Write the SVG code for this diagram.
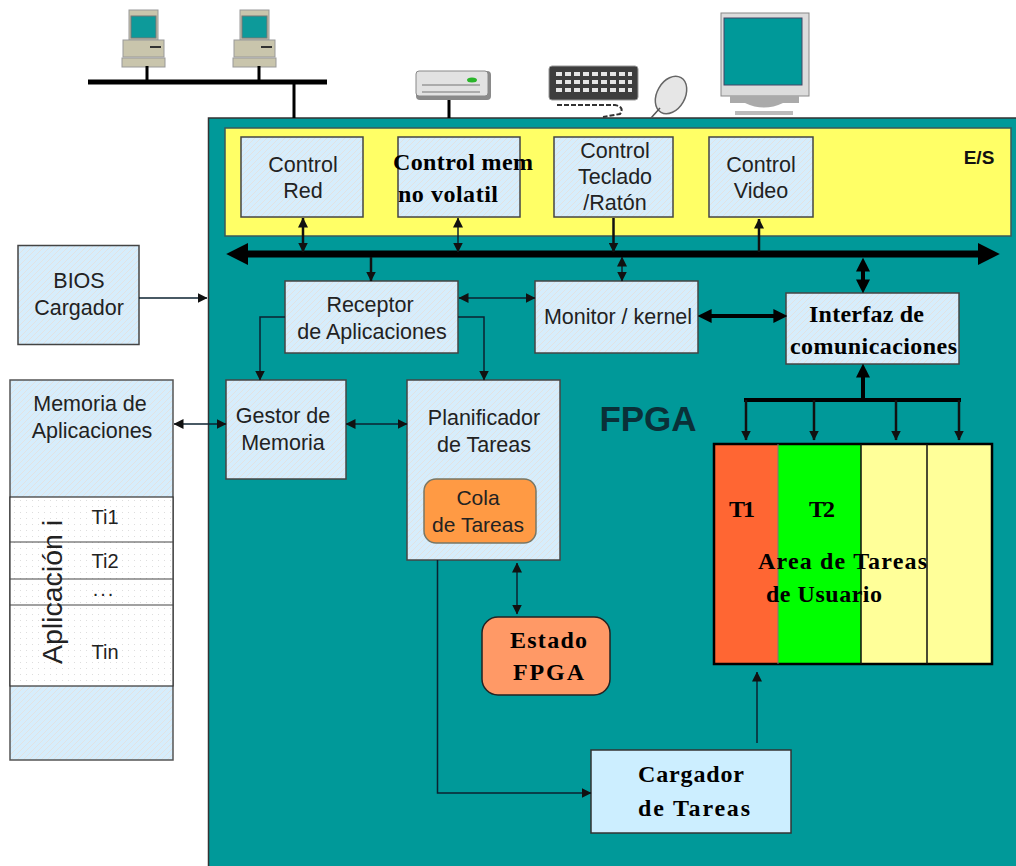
<svg xmlns="http://www.w3.org/2000/svg" width="1016" height="866" viewBox="0 0 1016 866">
<style>
.n{fill:url(#hatch);stroke:#444;stroke-width:1.500}
.t{font-family:"Liberation Sans",Arial,sans-serif;font-size:21.500px;fill:#222;text-anchor:middle}
.s{font-family:"Liberation Serif","Times New Roman",serif;font-size:24px;font-weight:bold;fill:#000}
.c{fill:none;stroke:#0b2230;stroke-width:1.500}
.m{fill:none;stroke:#111;stroke-width:2.500}
.h{fill:none;stroke:#000;stroke-width:4}
.gr{fill:#c9c5ac;stroke:#999;stroke-width:1}
.sc{fill:#0a9a9a;stroke:#777;stroke-width:1}
.ic{filter:url(#soft)}
</style>
<defs>
<filter id="soft" x="-10%" y="-10%" width="120%" height="120%"><feGaussianBlur stdDeviation="0.600"/></filter>
<pattern id="hatch" width="6" height="6" patternUnits="userSpaceOnUse"><rect width="6" height="6" fill="#d6edfc"/><path d="M0 3L3 0M3 6L6 3" stroke="#e2e2e2" stroke-width="1"/></pattern>
<pattern id="dots" width="6" height="6" patternUnits="userSpaceOnUse"><rect width="6" height="6" fill="#fff"/><rect x="2" y="2" width="1" height="1" fill="#ddd"/></pattern>
<marker id="a" viewBox="0 0 10 10" refX="9.500" refY="5" markerWidth="10" markerHeight="10" markerUnits="userSpaceOnUse" orient="auto-start-reverse"><path d="M0 0L10 5L0 10Z" fill="#111"/></marker>
<marker id="b" viewBox="0 0 10 10" refX="4" refY="5" markerWidth="14" markerHeight="14" markerUnits="userSpaceOnUse" orient="auto-start-reverse"><path d="M0 0L10 5L0 10Z" fill="#000"/></marker>
<marker id="d" viewBox="0 0 10 10" refX="1" refY="5" markerWidth="22" markerHeight="22" markerUnits="userSpaceOnUse" orient="auto-start-reverse"><path d="M0 0L10 5L0 10Z" fill="#000"/></marker>
<g id="pc"><rect x="129" y="10" width="29" height="30" class="gr"/><rect x="131" y="16" width="25" height="22" class="sc"/><rect x="123" y="40" width="41" height="17" class="gr"/><rect x="150" y="46" width="11" height="2" fill="#333"/><rect x="122" y="58" width="43" height="9" class="gr"/></g>
</defs>
<rect width="1016" height="866" fill="#fff"/>
<g id="fpga"><rect x="208.500" y="118" width="820" height="760" fill="#009999" stroke="#333" stroke-width="1.500"/></g>
<g id="es"><rect x="225" y="128" width="786" height="108" fill="#ffff66" stroke="#3a5a5a" stroke-width="1.500"/><text x="979" y="164" font-family="Liberation Sans,Arial,sans-serif" font-size="19" font-weight="bold" fill="#111" text-anchor="middle">E/S</text></g>
<g id="network">
<g class="ic"><use href="#pc"/><use href="#pc" x="111"/></g>
<path d="M88 82H327" stroke="#000" stroke-width="5" fill="none"/>
<path d="M147 66V82M259 66V82M294 82V118" stroke="#000" stroke-width="3" fill="none"/>
</g>
<g id="disk"><g class="ic"><rect x="416" y="71" width="75" height="29" rx="4" fill="#8a8a8a"/><rect x="416" y="71" width="72" height="25" rx="3" fill="#e2e2e2" stroke="#888"/><path d="M422 85H480M422 92H480" stroke="#999" stroke-width="1.500"/><ellipse cx="472" cy="80" rx="5" ry="2.500" fill="#2cb52c"/></g><path d="M449 100V118" stroke="#000" stroke-width="3"/></g>
<g id="keyboard" class="ic"><rect x="549" y="66" width="89" height="34" rx="3" fill="#3c3c3c" stroke="#999"/><path d="M556 74H632M556 82H632M556 90H632" stroke="#e5e5e5" stroke-width="4" stroke-dasharray="6 3"/><path d="M557 105H615Q625 107 620 114L603 117" fill="none" stroke="#333" stroke-width="2" stroke-dasharray="5 2"/></g>
<g id="mouse" class="ic"><ellipse cx="671" cy="95" rx="14" ry="20" transform="rotate(30 671 95)" fill="#e6e6e6" stroke="#666" stroke-width="1.500"/><path d="M660 108L651 118" stroke="#555" stroke-width="1.500"/></g>
<g id="monitor" class="ic"><rect x="721" y="13" width="88" height="83" fill="#dcdcdc" stroke="#888"/><rect x="724" y="18" width="78" height="67" fill="#009999" stroke="#446"/><rect x="730" y="96" width="69" height="7" fill="#aaa"/><path d="M745 103Q764 112 783 103Z" fill="#aaa"/><rect x="735" y="111" width="58" height="4" fill="#bbb"/></g>
<g id="bios"><rect x="18" y="245.500" width="121" height="99" class="n"/><text class="t" x="79" y="288">BIOS</text><text class="t" x="79" y="315">Cargador</text></g>
<g id="memoria">
<rect x="10" y="380" width="163" height="380" fill="url(#hatch)" stroke="#555" stroke-width="1.500"/>
<rect x="10" y="497" width="163" height="189" fill="url(#dots)" stroke="#333" stroke-width="1.200"/>
<path d="M10 542H173M10 579H173M10 605H173" stroke="#444" stroke-width="1.200"/>
<text class="t" x="90" y="411">Memoria de</text><text class="t" x="92" y="438">Aplicaciones</text>
<text class="t" style="font-size:20px" x="105" y="524">Ti1</text><text class="t" style="font-size:20px" x="105" y="568">Ti2</text><text class="t" style="font-size:20px;letter-spacing:2px" x="104" y="596">...</text><text class="t" style="font-size:20px" x="105" y="659">Tin</text>
<text class="t" style="font-size:28.500px" transform="translate(62 663) rotate(-90)" x="71" y="0">Aplicación i</text>
</g>
<g id="control-red"><rect x="241" y="137" width="122" height="80" class="n"/><text class="t" x="303" y="172">Control</text><text class="t" x="303" y="198">Red</text></g>
<g id="control-mem"><rect x="398" y="137" width="122" height="80" class="n"/><text class="s" x="393" y="170" textLength="140">Control mem</text><text class="s" x="398" y="202" textLength="100">no volatil</text></g>
<g id="control-teclado"><rect x="554" y="137" width="119" height="80" class="n"/><text class="t" x="615" y="158">Control</text><text class="t" x="615" y="184">Teclado</text><text class="t" x="615" y="210">/Ratón</text></g>
<g id="control-video"><rect x="709" y="137" width="104" height="80" class="n"/><text class="t" x="761" y="172">Control</text><text class="t" x="761" y="198">Video</text></g>
<g id="receptor"><rect x="285" y="281" width="173" height="72" class="n"/><text class="t" x="370" y="312">Receptor</text><text class="t" x="372" y="339">de Aplicaciones</text></g>
<g id="monitor-kernel"><rect x="535" y="281" width="163" height="72" class="n"/><text class="t" x="618" y="324">Monitor / kernel</text></g>
<g id="interfaz"><rect x="786" y="293" width="173" height="71" class="n"/><text class="s" x="809" y="322" textLength="115">Interfaz de</text><text class="s" x="790" y="354" textLength="167">comunicaciones</text></g>
<g id="gestor"><rect x="226" y="380" width="120" height="99" class="n"/><text class="t" x="283" y="423">Gestor de</text><text class="t" x="283" y="450">Memoria</text></g>
<g id="planificador"><rect x="407" y="380" width="153" height="180" class="n"/><text class="t" x="484" y="425">Planificador</text><text class="t" x="484" y="452">de Tareas</text></g>
<g id="cola"><rect x="424" y="479" width="112" height="64" rx="12" fill="#ff9a44" stroke="#776" stroke-width="1.500"/><text class="t" style="font-size:21px" x="478" y="505">Cola</text><text class="t" style="font-size:21px" x="478" y="532">de Tareas</text></g>
<g id="estado"><rect x="482" y="617" width="128" height="78" rx="16" fill="#ff9966" stroke="#222" stroke-width="1.500"/><text class="s" x="510" y="648" textLength="77">Estado</text><text class="s" x="513" y="680" textLength="71">FPGA</text></g>
<g id="cargador"><rect x="591" y="750" width="200" height="83" fill="#cceeff" stroke="#333" stroke-width="1.500"/><text class="s" x="638" y="782" textLength="106">Cargador</text><text class="s" x="638" y="816" textLength="112">de Tareas</text></g>
<g id="fpga-label"><text x="648" y="431" font-family="Liberation Sans,Arial,sans-serif" font-size="35" font-weight="bold" fill="#0a3038" text-anchor="middle">FPGA</text></g>
<g id="area">
<rect x="714" y="444" width="64" height="220" fill="#ff6633"/><rect x="778" y="444" width="83" height="220" fill="#00ff00"/><rect x="861" y="444" width="66" height="220" fill="#ffff99"/><rect x="927" y="444" width="65" height="220" fill="#ffff99"/>
<path d="M714 444H992V664H714Z" fill="none" stroke="#000" stroke-width="2.500"/>
<path d="M861 444V664M927 444V664" fill="none" stroke="#111" stroke-width="1.500"/>
<path d="M778 444V664" fill="none" stroke="#777" stroke-width="1"/>
<text class="s" x="729" y="517" textLength="26">T1</text><text class="s" x="809" y="517" textLength="26">T2</text>
<text class="s" x="758" y="569" textLength="169">Area de Tareas</text><text class="s" x="766" y="602" textLength="116">de Usuario</text>
</g>
<g id="connectors">
<path d="M246 254H980" fill="none" stroke="#000" stroke-width="7" marker-start="url(#d)" marker-end="url(#d)"/>
<path class="m" marker-start="url(#a)" marker-end="url(#a)" d="M303 218V252"/>
<path class="c" marker-start="url(#a)" marker-end="url(#a)" d="M458 218V252"/>
<path class="m" marker-end="url(#a)" d="M613.500 218V252"/>
<path class="m" marker-start="url(#a)" d="M759 219V252"/>
<path class="m" marker-end="url(#a)" d="M371 257V281"/>
<path class="c" marker-start="url(#a)" marker-end="url(#a)" d="M622 257V281"/>
<path class="h" marker-start="url(#b)" marker-end="url(#b)" d="M863 266V285"/>
<path class="c" marker-end="url(#a)" d="M139 298H207"/>
<path class="c" marker-start="url(#a)" marker-end="url(#a)" d="M459 298H535"/>
<path class="h" marker-start="url(#b)" marker-end="url(#b)" d="M706 316H779"/>
<path class="c" marker-end="url(#a)" d="M285 317H260V380"/>
<path class="c" marker-end="url(#a)" d="M458 317H484V380"/>
<path class="c" marker-start="url(#a)" marker-end="url(#a)" d="M174 424H226"/>
<path class="c" marker-start="url(#a)" marker-end="url(#a)" d="M346 424H407"/>
<path class="c" marker-start="url(#a)" marker-end="url(#a)" d="M517 563V614"/>
<path class="c" marker-end="url(#a)" d="M437.500 560V793H591"/>
<path class="c" marker-end="url(#a)" d="M757 743V672"/>
<path class="h" marker-end="url(#b)" d="M863 400V372"/>
<path class="h" d="M744 400H961"/>
<path class="m" marker-end="url(#a)" d="M746 400V440"/>
<path class="m" marker-end="url(#a)" d="M814 400V440"/>
<path class="m" marker-end="url(#a)" d="M896 400V440"/>
<path class="m" marker-end="url(#a)" d="M959 400V440"/>
</g>
</svg>
